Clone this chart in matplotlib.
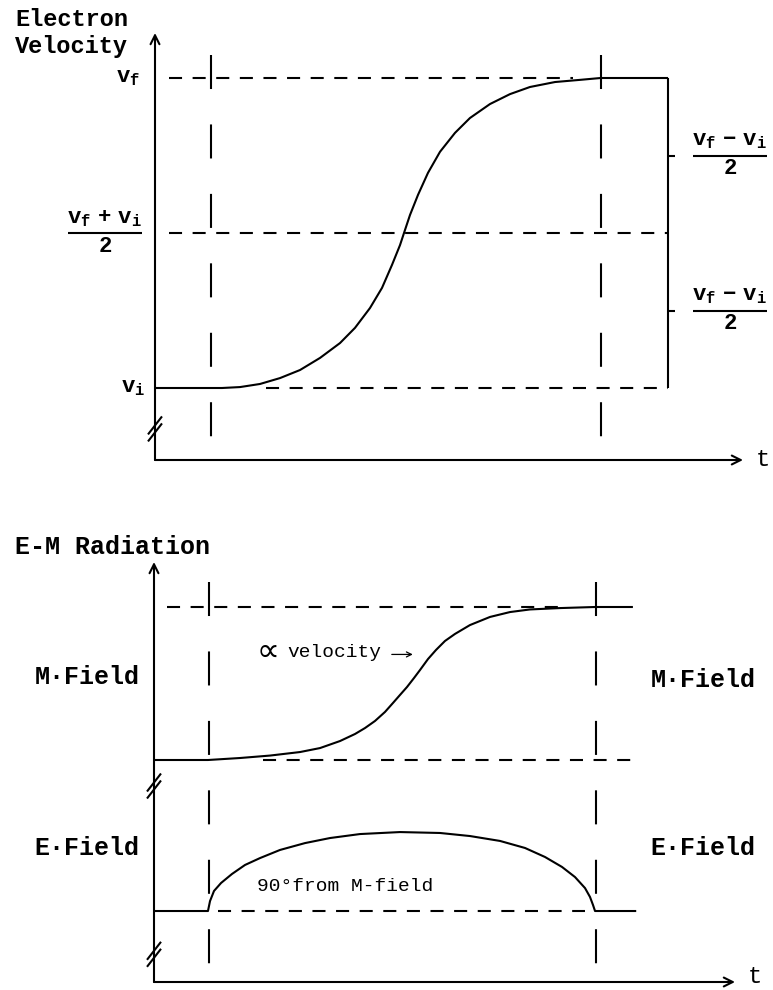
import matplotlib
matplotlib.use('Agg')
import matplotlib.pyplot as plt
import numpy as np

plt.rcParams['font.family'] = ['Liberation Mono', 'DejaVu Sans Mono', 'DejaVu Sans']
plt.rcParams['font.weight'] = 'bold'
plt.rcParams['mathtext.fontset'] = 'custom'
plt.rcParams['mathtext.rm'] = 'Liberation Mono:bold'
plt.rcParams['mathtext.it'] = 'Liberation Mono:bold'
plt.rcParams['mathtext.bf'] = 'Liberation Mono:bold'
plt.rcParams['lines.scale_dashes'] = False
plt.rcParams['lines.solid_capstyle'] = 'butt'
plt.rcParams['lines.solid_joinstyle'] = 'round'

# ---- data -------------------------------------------------------------
# time of the two dashed markers (start / end of the acceleration)
t_marks = [1.0, 8.0]
t_bracket = 9.21

# electron velocity (v_i = 0, v_f = 1)
vel_t = [0.0, 1.203, 1.526, 1.885, 2.244, 2.603, 2.962, 3.321, 3.590, 3.859,
         4.075, 4.254, 4.398, 4.488, 4.577, 4.721, 4.900, 5.116, 5.385, 5.654,
         6.013, 6.372, 6.731, 7.180, 7.629, 8.0, 9.21]
vel_v = [0.0, 0.0, 0.003, 0.013, 0.032, 0.058, 0.097, 0.145, 0.194, 0.258,
         0.323, 0.397, 0.461, 0.510, 0.558, 0.623, 0.694, 0.762, 0.823, 0.871,
         0.916, 0.948, 0.971, 0.987, 0.994, 1.0, 1.0]
v_i, v_mid, v_f = 0.0, 0.5, 1.0

# M-field follows the velocity
m_t = [0.0, 0.976, 1.555, 2.098, 2.640, 3.002, 3.364, 3.635, 3.816, 3.996,
       4.177, 4.322, 4.448, 4.575, 4.702, 4.810, 4.955, 5.099, 5.262, 5.443,
       5.714, 6.076, 6.438, 6.799, 7.342, 7.975, 8.66]
m_v = [0.0, 0.0, 0.013, 0.029, 0.052, 0.078, 0.124, 0.170, 0.209, 0.255,
       0.314, 0.373, 0.425, 0.477, 0.536, 0.588, 0.660, 0.719, 0.778, 0.824,
       0.882, 0.935, 0.967, 0.984, 0.993, 1.0, 1.0]

# E-field pulse: height above its baseline e0
e0 = -0.987
e_t = [0.0, 0.976, 1.013, 1.085, 1.212, 1.410, 1.646, 1.917, 2.278, 2.731,
       3.183, 3.725, 4.448, 5.172, 5.714, 6.257, 6.709, 7.071, 7.378, 7.613,
       7.794, 7.884, 7.939, 7.975, 8.72]
e_h = [0.0, 0.0, 0.065, 0.131, 0.183, 0.242, 0.301, 0.346, 0.399, 0.444,
       0.477, 0.503, 0.516, 0.510, 0.490, 0.458, 0.412, 0.353, 0.288, 0.222,
       0.150, 0.092, 0.039, 0.0, 0.0]

lw = 1.5
hdash = (0, (9.4, 7.6))
vdash = (0, (24.5, 25.5))
blk = 'black'

fig = plt.figure(figsize=(7.73, 9.9), dpi=100)
W, H = 773.0, 990.0


def px_axes(x0, x1, ytop, ybot):
    return fig.add_axes([x0 / W, 1 - ybot / H, (x1 - x0) / W, (ybot - ytop) / H])


def setup(ax, t_dy):
    for s in ax.spines.values():
        s.set_visible(False)
    ax.set_xticks([])
    ax.set_yticks([])
    ax.patch.set_alpha(0)
    arr = dict(arrowstyle='->', lw=lw, color=blk, shrinkA=0, shrinkB=0,
               mutation_scale=16)
    ax.annotate('', xy=(1, 0), xytext=(0, 0), xycoords='axes fraction', arrowprops=arr)
    ax.annotate('', xy=(0, 1), xytext=(0, 0), xycoords='axes fraction', arrowprops=arr)
    ax.annotate('t', xy=(1, 0), xycoords='axes fraction', xytext=(20, t_dy),
                textcoords='offset pixels', ha='center', va='bottom',
                fontsize=17, fontweight='normal')


def break_mark(ax, yc, px_w=14, px_h=18, px_sep=7):
    x0, x1 = ax.get_xlim()
    y0, y1 = ax.get_ylim()
    sx = ax.bbox.width / (x1 - x0)
    sy = ax.bbox.height / (y1 - y0)
    for k in (-0.5, 0.5):
        yy = yc + k * px_sep / sy
        ax.plot([-px_w / 2 / sx, px_w / 2 / sx],
                [yy - px_h / 2 / sy, yy + px_h / 2 / sy],
                color=blk, lw=lw, clip_on=False)


def frac(ax, x, y, num, half_w, size=16):
    ax.plot([x - half_w, x + half_w], [y, y], color=blk, lw=lw, clip_on=False)
    ax.annotate(num, xy=(x, y), xytext=(0, 3), textcoords='offset points',
                ha='center', va='bottom', fontsize=size, annotation_clip=False)
    ax.annotate('2', xy=(x, y), xytext=(0, -2), textcoords='offset points',
                ha='center', va='top', fontsize=size, annotation_clip=False)


# ---- top panel: electron velocity -------------------------------------
ax1 = px_axes(155, 743, 33, 460)
ax1.set_xlim(0, (743 - 155) / 55.71)
ax1.set_ylim(-(460 - 388) / 310.0, 1 + (388 - 33 - 310) / 310.0)
setup(ax1, -11)

ax1.plot([0.25, 7.5], [v_f, v_f], color=blk, lw=lw, ls=hdash)
ax1.plot([0.25, t_bracket], [v_mid, v_mid], color=blk, lw=lw, ls=hdash)
ax1.plot([2.0, t_bracket], [v_i, v_i], color=blk, lw=lw, ls=hdash)
for tm in t_marks:
    ax1.plot([tm, tm], [1.074, -0.174], color=blk, lw=lw, ls=vdash)
ax1.plot(vel_t, vel_v, color=blk, lw=lw)
ax1.plot([t_bracket, t_bracket], [v_i, v_f], color=blk, lw=lw)
for q in (0.25, 0.75):
    ax1.plot([t_bracket, t_bracket + 0.13], [q, q], color=blk, lw=lw, clip_on=False)
break_mark(ax1, -0.132)

ax1.text(-0.27, v_f, '$v_f$', ha='right', va='center', fontsize=16)
ax1.text(-0.18, v_i, '$v_i$', ha='right', va='center', fontsize=16)
frac(ax1, -0.9, v_mid, r'$v_f\ +\ v_i$', 0.66)
frac(ax1, 10.32, 0.75, r'$v_f\ -\ v_i$', 0.66)
frac(ax1, 10.32, 0.25, r'$v_f\ -\ v_i$', 0.66)
fig.text(15 / W, 1 - 20 / H, 'Electron', ha='left', va='center', fontsize=17)
fig.text(15 / W, 1 - 47 / H, 'Velocity', ha='left', va='center', fontsize=17)

# ---- bottom panel: radiation ------------------------------------------
ax2 = px_axes(154, 735, 562, 982)
ax2.set_xlim(0, (735 - 154) / 55.3)
ax2.set_ylim(-(982 - 760) / 153.0, (760 - 562) / 153.0)
setup(ax2, -6)

ax2.plot([0.23, 7.4], [1, 1], color=blk, lw=lw, ls=hdash)
ax2.plot([1.98, 8.72], [0, 0], color=blk, lw=lw, ls=hdash)
ax2.plot([1.15, 7.8], [e0, e0], color=blk, lw=lw, ls=hdash)
for tm in t_marks:
    ax2.plot([tm, tm], [1.163, -1.333], color=blk, lw=lw, ls=vdash)
ax2.plot(m_t, m_v, color=blk, lw=lw)
ax2.plot(e_t, [e0 + h for h in e_h], color=blk, lw=lw)
break_mark(ax2, -0.17)
break_mark(ax2, -1.27)

ax2.text(-1.21, 0.54, 'M·Field', ha='center', va='center', fontsize=18)
ax2.text(9.93, 0.52, 'M·Field', ha='center', va='center', fontsize=18)
ax2.text(-1.21, -0.575, 'E·Field', ha='center', va='center', fontsize=18)
ax2.text(9.93, -0.575, 'E·Field', ha='center', va='center', fontsize=18)
ax2.text(1.86, 0.70, '∝', ha='left', va='center', fontsize=23,
         fontweight='normal', family='DejaVu Sans')
ax2.text(2.42, 0.70, 'velocity', ha='left', va='center', fontsize=14,
         fontweight='normal')
ax2.annotate('', xy=(4.68, 0.69), xytext=(4.30, 0.69),
             arrowprops=dict(arrowstyle='->', lw=0.9, color=blk,
                             shrinkA=0, shrinkB=0, mutation_scale=9))
ax2.text(3.45, -0.824, '90°from M-field', ha='center', va='center', fontsize=14,
         fontweight='normal')
fig.text(15 / W, 1 - 547 / H, 'E-M Radiation', ha='left', va='center', fontsize=18)

fig.savefig('out.png', dpi=100)
